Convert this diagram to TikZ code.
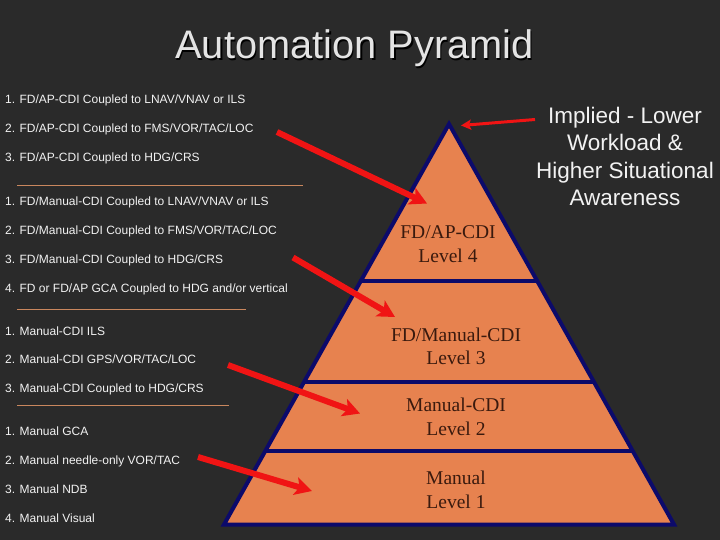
\documentclass[tikz,border=0pt]{standalone}
\usepackage{fontspec}
\setmainfont{Liberation Sans}
\newfontfamily\pyrserif{Liberation Serif}
\usetikzlibrary{arrows.meta}
\definecolor{bg}{HTML}{2A2A2A}
\definecolor{pyrfill}{HTML}{E7824F}
\definecolor{pyredge}{HTML}{0C0A6A}
\definecolor{arrowred}{HTML}{F01414}
\definecolor{rulecol}{HTML}{C9875E}
\definecolor{txt}{HTML}{F2F2F2}
\definecolor{titlecol}{HTML}{E4E4E4}
\definecolor{lvltxt}{HTML}{3A1A0E}
\begin{document}
\begin{tikzpicture}[x=1pt,y=-1pt,
  item/.style={anchor=base west, inner sep=0pt, text=txt, font=\fontsize{12}{14}\selectfont},
  rulerline/.style={draw=rulecol, line width=0.9pt},
  lvl/.style={align=center, text=lvltxt, inner sep=0pt, font=\pyrserif\fontsize{19.5}{23.5}\selectfont},
  side/.style={anchor=base, inner sep=0pt, text=txt, font=\fontsize{22.5}{27}\selectfont},
  bigarrow/.style={draw=arrowred, line width=6pt, -{Stealth[length=17pt,width=18pt,inset=4pt]}},
  smallarrow/.style={draw=arrowred, line width=3pt, -{Stealth[length=10pt,width=10pt,inset=2pt]}},
  edge/.style={draw=pyredge, line width=4pt}]
\useasboundingbox (0,0) rectangle (720,540);
\fill[bg] (0,0) rectangle (720,540);

% title
\node[anchor=base, inner sep=0pt, text=black, font=\fontsize{39.8}{44}\selectfont] (titleshadow) at (356,60.5) {Automation Pyramid};
\node[anchor=base, inner sep=0pt, text=titlecol, font=\fontsize{39.8}{44}\selectfont] (title) at (354.5,59) {Automation Pyramid};

% pyramid
\coordinate (apex) at (449,124);
\coordinate (bl) at (224,524.5);
\coordinate (br) at (674,524.5);
\fill[pyrfill] (apex) -- (bl) -- (br) -- cycle;
\draw[edge] (359,281) -- (539,281);
\draw[edge] (303.5,382) -- (594.5,382);
\draw[edge] (265,451) -- (633,451);
\draw[edge, line join=miter] (apex) -- (bl) -- (br) -- cycle;

\node[lvl] (l4) at (448,244) {FD/AP-CDI\\Level 4};
\node[lvl] (l3) at (456,346.5) {FD/Manual-CDI\\Level 3};
\node[lvl] (l2) at (456,417) {Manual-CDI\\Level 2};
\node[lvl] (l1) at (456,490) {Manual\\Level 1};

% left text
\node[item] (a1) at (5,104) {1. FD/AP-CDI Coupled to LNAV/VNAV or ILS};
\node[item] (a2) at (5,133) {2. FD/AP-CDI Coupled to FMS/VOR/TAC/LOC};
\node[item] (a3) at (5,162) {3. FD/AP-CDI Coupled to HDG/CRS};
\draw[rulerline] (17,185) -- (303,185);
\node[item] (b1) at (5,206) {1. FD/Manual-CDI Coupled to LNAV/VNAV or ILS};
\node[item] (b2) at (5,235) {2. FD/Manual-CDI Coupled to FMS/VOR/TAC/LOC};
\node[item] (b3) at (5,263) {3. FD/Manual-CDI Coupled to HDG/CRS};
\node[item] (b4) at (5,292) {4. FD or FD/AP GCA Coupled to HDG and/or vertical};
\draw[rulerline] (17,309) -- (246,309);
\node[item] (c1) at (5,335) {1. Manual-CDI ILS};
\node[item] (c2) at (5,363) {2. Manual-CDI GPS/VOR/TAC/LOC};
\node[item] (c3) at (5,392) {3. Manual-CDI Coupled to HDG/CRS};
\draw[rulerline] (17,405) -- (229,405);
\node[item] (d1) at (5,435) {1. Manual GCA};
\node[item] (d2) at (5,464) {2. Manual needle-only VOR/TAC};
\node[item] (d3) at (5,493) {3. Manual NDB};
\node[item] (d4) at (5,522) {4. Manual Visual};

% right text
\node[side] (s1) at (625,124) {Implied - Lower};
\node[side] (s2) at (625,151) {Workload \&};
\node[side] (s3) at (625,178.5) {Higher Situational};
\node[side] (s4) at (625,206) {Awareness};

% arrows
\coordinate (r1s) at (535,119.5);
\coordinate (r1e) at (461,125.5);
\draw[smallarrow] (r1s) -- (r1e);
\coordinate (r2s) at (277,132);
\coordinate (r2e) at (427,203.5);
\draw[bigarrow] (r2s) -- (r2e);
\coordinate (r3s) at (293,257.5);
\coordinate (r3e) at (395,317);
\draw[bigarrow] (r3s) -- (r3e);
\coordinate (r4s) at (228,365);
\coordinate (r4e) at (360,413.5);
\draw[bigarrow] (r4s) -- (r4e);
\coordinate (r5s) at (198,457);
\coordinate (r5e) at (312,491);
\draw[bigarrow] (r5s) -- (r5e);
\end{tikzpicture}
\end{document}
